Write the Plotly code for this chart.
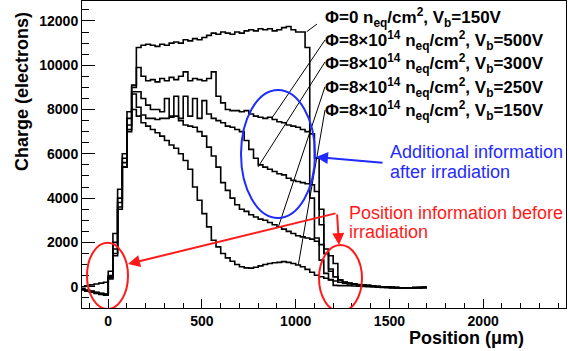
import plotly.graph_objects as go

# ---------------- data ----------------
bin_edges = list(range(-150, 1701, 25))  # 74 bins of 25 um

phi0_150V = [0, 40, 80, 120, 160, 200,
             700, 2400, 4400, 6000, 7900, 9100,
             10800, 10900, 10950, 10900, 10850, 10950, 10900, 11000, 11050, 11000, 11150, 11100,
             11200, 11150, 11250, 11350, 11450, 11400, 11500, 11450, 11400, 11500, 11450, 11550,
             11600, 11550, 11650, 11600, 11650, 11550, 11600, 11700, 11750, 11600, 11500, 11500,
             10800, 4000, 2200, 1200, 600, 300, 60, 50, 50, 40, 30,
             20, 10, 0, -10, -20, -30, -40, -50, -50, -60, -50, -50, -40, -40, -30]

phi8_500V = [-100, -150, -200, -250, -300, -330,
             500, 2000, 4000, 5800, 7600, 9000,
             9900, 9500, 9300, 9350, 9250, 9400, 9300, 9450, 9350, 9500, 9700, 9300,
             9400, 9350, 9300, 9400, 9700, 8600, 8300, 8000, 7950, 7950, 7900, 7950,
             7800, 7700, 7650, 7600, 7650, 7550, 7450, 7400, 7300, 7250, 7200, 7100,
             7000, 6900, 5800, 3500, 1500, 700, 450, 300, 200, 150, 120,
             100, 80, 60, 40, 20, 0, -20, -30, -40, -50, -50, -60, -50, -40, -40]

phi8_300V = [-120, -180, -220, -280, -320, -350,
             450, 1700, 3800, 5600, 7300, 8800,
             8800, 8500, 8200, 8000, 8000, 7900, 8500, 7700, 8600, 7600, 8600, 7700,
             8500, 7600, 8400, 7800, 7600, 7500, 7400, 7250, 7200, 7100, 7000, 6600,
             6200, 5800, 5500, 5400, 5300, 5200, 5100, 5050, 4900, 4800, 4750, 4700,
             4650, 4600, 4300, 2800, 1500, 800, 450, 300, 200, 150, 120,
             90, 70, 50, 30, 10, -10, -20, -30, -40, -50, -60, -50, -50, -40, -30]

phi8_250V = [-150, -200, -250, -300, -350, -380,
             400, 1500, 3600, 5400, 7100, 8700,
             8100, 7750, 7600, 7600, 7550, 7600, 7600, 7650, 7700, 7500, 7300, 7250,
             7200, 7000, 6800, 6300, 5900, 5400, 4700, 4350, 4000, 3700, 3500, 3400,
             3250, 3150, 3050, 3000, 2900, 2800, 2700, 2600, 2500, 2400, 2300, 2250,
             2200, 2150, 2050, 1900, 1700, 1400, 1050, 300, 200, 150, 120,
             90, 60, 40, 20, 0, -10, -20, -30, -40, -50, -50, -50, -40, -40, -30]

phi8_150V = [-130, -170, -230, -270, -310, -340,
             350, 1400, 3500, 5400, 7000, 8000,
             7700, 7400, 7250, 7100, 6950, 6800, 6600, 6400, 6250, 6000, 5700, 5300,
             4500, 3900, 3300, 2700, 2100, 1800, 1500, 1300, 1150, 1000, 900, 850,
             840, 880, 940, 1000, 1050, 1080, 1100, 1130, 1100, 1050, 980, 900,
             780, 650, 520, 450, 380, 320, 260, 200, 160, 130, 110,
             90, 70, 50, 30, 10, -10, -20, -30, -40, -50, -50, -50, -40, -40, -30]

series = [phi0_150V, phi8_500V, phi8_300V, phi8_250V, phi8_150V]

legend_labels = [
    "<b>Φ=0 n<sub>eq</sub>/cm<sup>2</sup>, V<sub>b</sub>=150V</b>",
    "<b>Φ=8×10<sup>14</sup> n<sub>eq</sub>/cm<sup>2</sup>, V<sub>b</sub>=500V</b>",
    "<b>Φ=8×10<sup>14</sup> n<sub>eq</sub>/cm<sup>2</sup>, V<sub>b</sub>=300V</b>",
    "<b>Φ=8×10<sup>14</sup> n<sub>eq</sub>/cm<sup>2</sup>, V<sub>b</sub>=250V</b>",
    "<b>Φ=8×10<sup>14</sup> n<sub>eq</sub>/cm<sup>2</sup>, V<sub>b</sub>=150V</b>",
]

# ---------------- layout geometry ----------------
W, H = 569, 351
L, R, T, B = 82, 566, 1, 308
X0, X1 = -140, 2442
Y0, Y1 = -962, 12900


def dx(px):
    return X0 + (px - L) / (R - L) * (X1 - X0)


def dy(py):
    return Y0 + (B - py) / (B - T) * (Y1 - Y0)


FONT = "Arial, Liberation Sans, Helvetica, sans-serif"

fig = go.Figure()
for vals in series:
    fig.add_trace(go.Scatter(
        x=bin_edges, y=vals + [vals[-1]], mode="lines",
        line=dict(color="black", width=1.6, shape="hv"),
        showlegend=False, hoverinfo="skip"))

axis_common = dict(
    showline=True, linecolor="black", linewidth=1, mirror=True,
    ticks="inside", tickcolor="black", tickwidth=1,
    showgrid=False, zeroline=False, tickformat="d",
    tickfont=dict(family=FONT, size=14, color="black", weight="bold"),
)

fig.update_layout(
    width=W, height=H,
    margin=dict(l=L, r=W - R, t=T, b=H - B),
    paper_bgcolor="white", plot_bgcolor="white",
    xaxis=dict(range=[X0, X1], tick0=0, dtick=500, ticklen=9,
               minor=dict(ticks="inside", dtick=100, ticklen=5, tickcolor="black"),
               **axis_common),
    yaxis=dict(range=[Y0, Y1], tick0=0, dtick=2000, ticklen=13,
               minor=dict(ticks="inside", dtick=500, ticklen=7, tickcolor="black"),
               **axis_common),
)

shapes = []
# leader lines from labels to curves
leaders = [((317, 24), (306.7, 31.7)),
           ((325, 40), (271.7, 118.3)),
           ((325, 62), (258, 167)),
           ((325, 86.7), (278, 228)),
           ((325, 110), (298.3, 265))]
for (p0, p1) in leaders:
    shapes.append(dict(type="line", xref="x", yref="y",
                       x0=dx(p0[0]), y0=dy(p0[1]), x1=dx(p1[0]), y1=dy(p1[1]),
                       line=dict(color="black", width=1)))
# ellipses
shapes.append(dict(type="circle", xref="x", yref="y",
                   x0=dx(241), x1=dx(315), y0=dy(218), y1=dy(90),
                   line=dict(color="#1f2bff", width=2)))
shapes.append(dict(type="circle", xref="x", yref="y",
                   x0=dx(87), x1=dx(128), y0=dy(309), y1=dy(242.7),
                   line=dict(color="#ff1a1a", width=2)))
shapes.append(dict(type="circle", xref="x", yref="y",
                   x0=dx(319), x1=dx(362), y0=dy(311.7), y1=dy(245),
                   line=dict(color="#ff1a1a", width=2)))
fig.update_layout(shapes=shapes)

ann = []
label_y = [17, 40, 63, 87, 110]
for txt, py in zip(legend_labels, label_y):
    ann.append(dict(x=dx(323), y=dy(py), xref="x", yref="y", text=txt,
                    showarrow=False, xanchor="left", yanchor="middle",
                    font=dict(family=FONT, size=17, color="black")))
# arrows
ann.append(dict(x=dx(316), y=dy(157), ax=dx(384), ay=dy(163), xref="x", yref="y",
                axref="x", ayref="y", text="", showarrow=True, arrowhead=2,
                arrowsize=1.2, arrowwidth=2, arrowcolor="#1f2bff"))
ann.append(dict(x=dx(128), y=dy(264), ax=dx(337), ay=dy(213), xref="x", yref="y",
                axref="x", ayref="y", text="", showarrow=True, arrowhead=2,
                arrowsize=1.2, arrowwidth=2, arrowcolor="#ff1a1a"))
ann.append(dict(x=dx(339), y=dy(245), ax=dx(337), ay=dy(213), xref="x", yref="y",
                axref="x", ayref="y", text="", showarrow=True, arrowhead=2,
                arrowsize=1.2, arrowwidth=2, arrowcolor="#ff1a1a"))
# colored texts
for txt, px, py, col in [("Additional information", 388, 152, "#1f2bff"),
                         ("after irradiation", 388, 172, "#1f2bff"),
                         ("Position information before", 347, 213, "#ff1a1a"),
                         ("irradiation", 347, 232, "#ff1a1a")]:
    ann.append(dict(x=dx(px), y=dy(py), xref="x", yref="y", text=txt,
                    showarrow=False, xanchor="left", yanchor="middle",
                    font=dict(family=FONT, size=18, color=col)))
# axis titles
ann.append(dict(x=(22 - L) / (R - L), y=(B - 92) / (B - T), xref="paper", yref="paper",
                text="<b>Charge (electrons)</b>", textangle=-90, showarrow=False,
                xanchor="center", yanchor="middle",
                font=dict(family=FONT, size=18, color="black")))
ann.append(dict(x=(466.5 - L) / (R - L), y=(B - 338) / (B - T), xref="paper", yref="paper",
                text="<b>Position (μm)</b>", showarrow=False,
                xanchor="center", yanchor="middle",
                font=dict(family=FONT, size=18, color="black")))
fig.update_layout(annotations=ann)

fig.write_html("out.html")
